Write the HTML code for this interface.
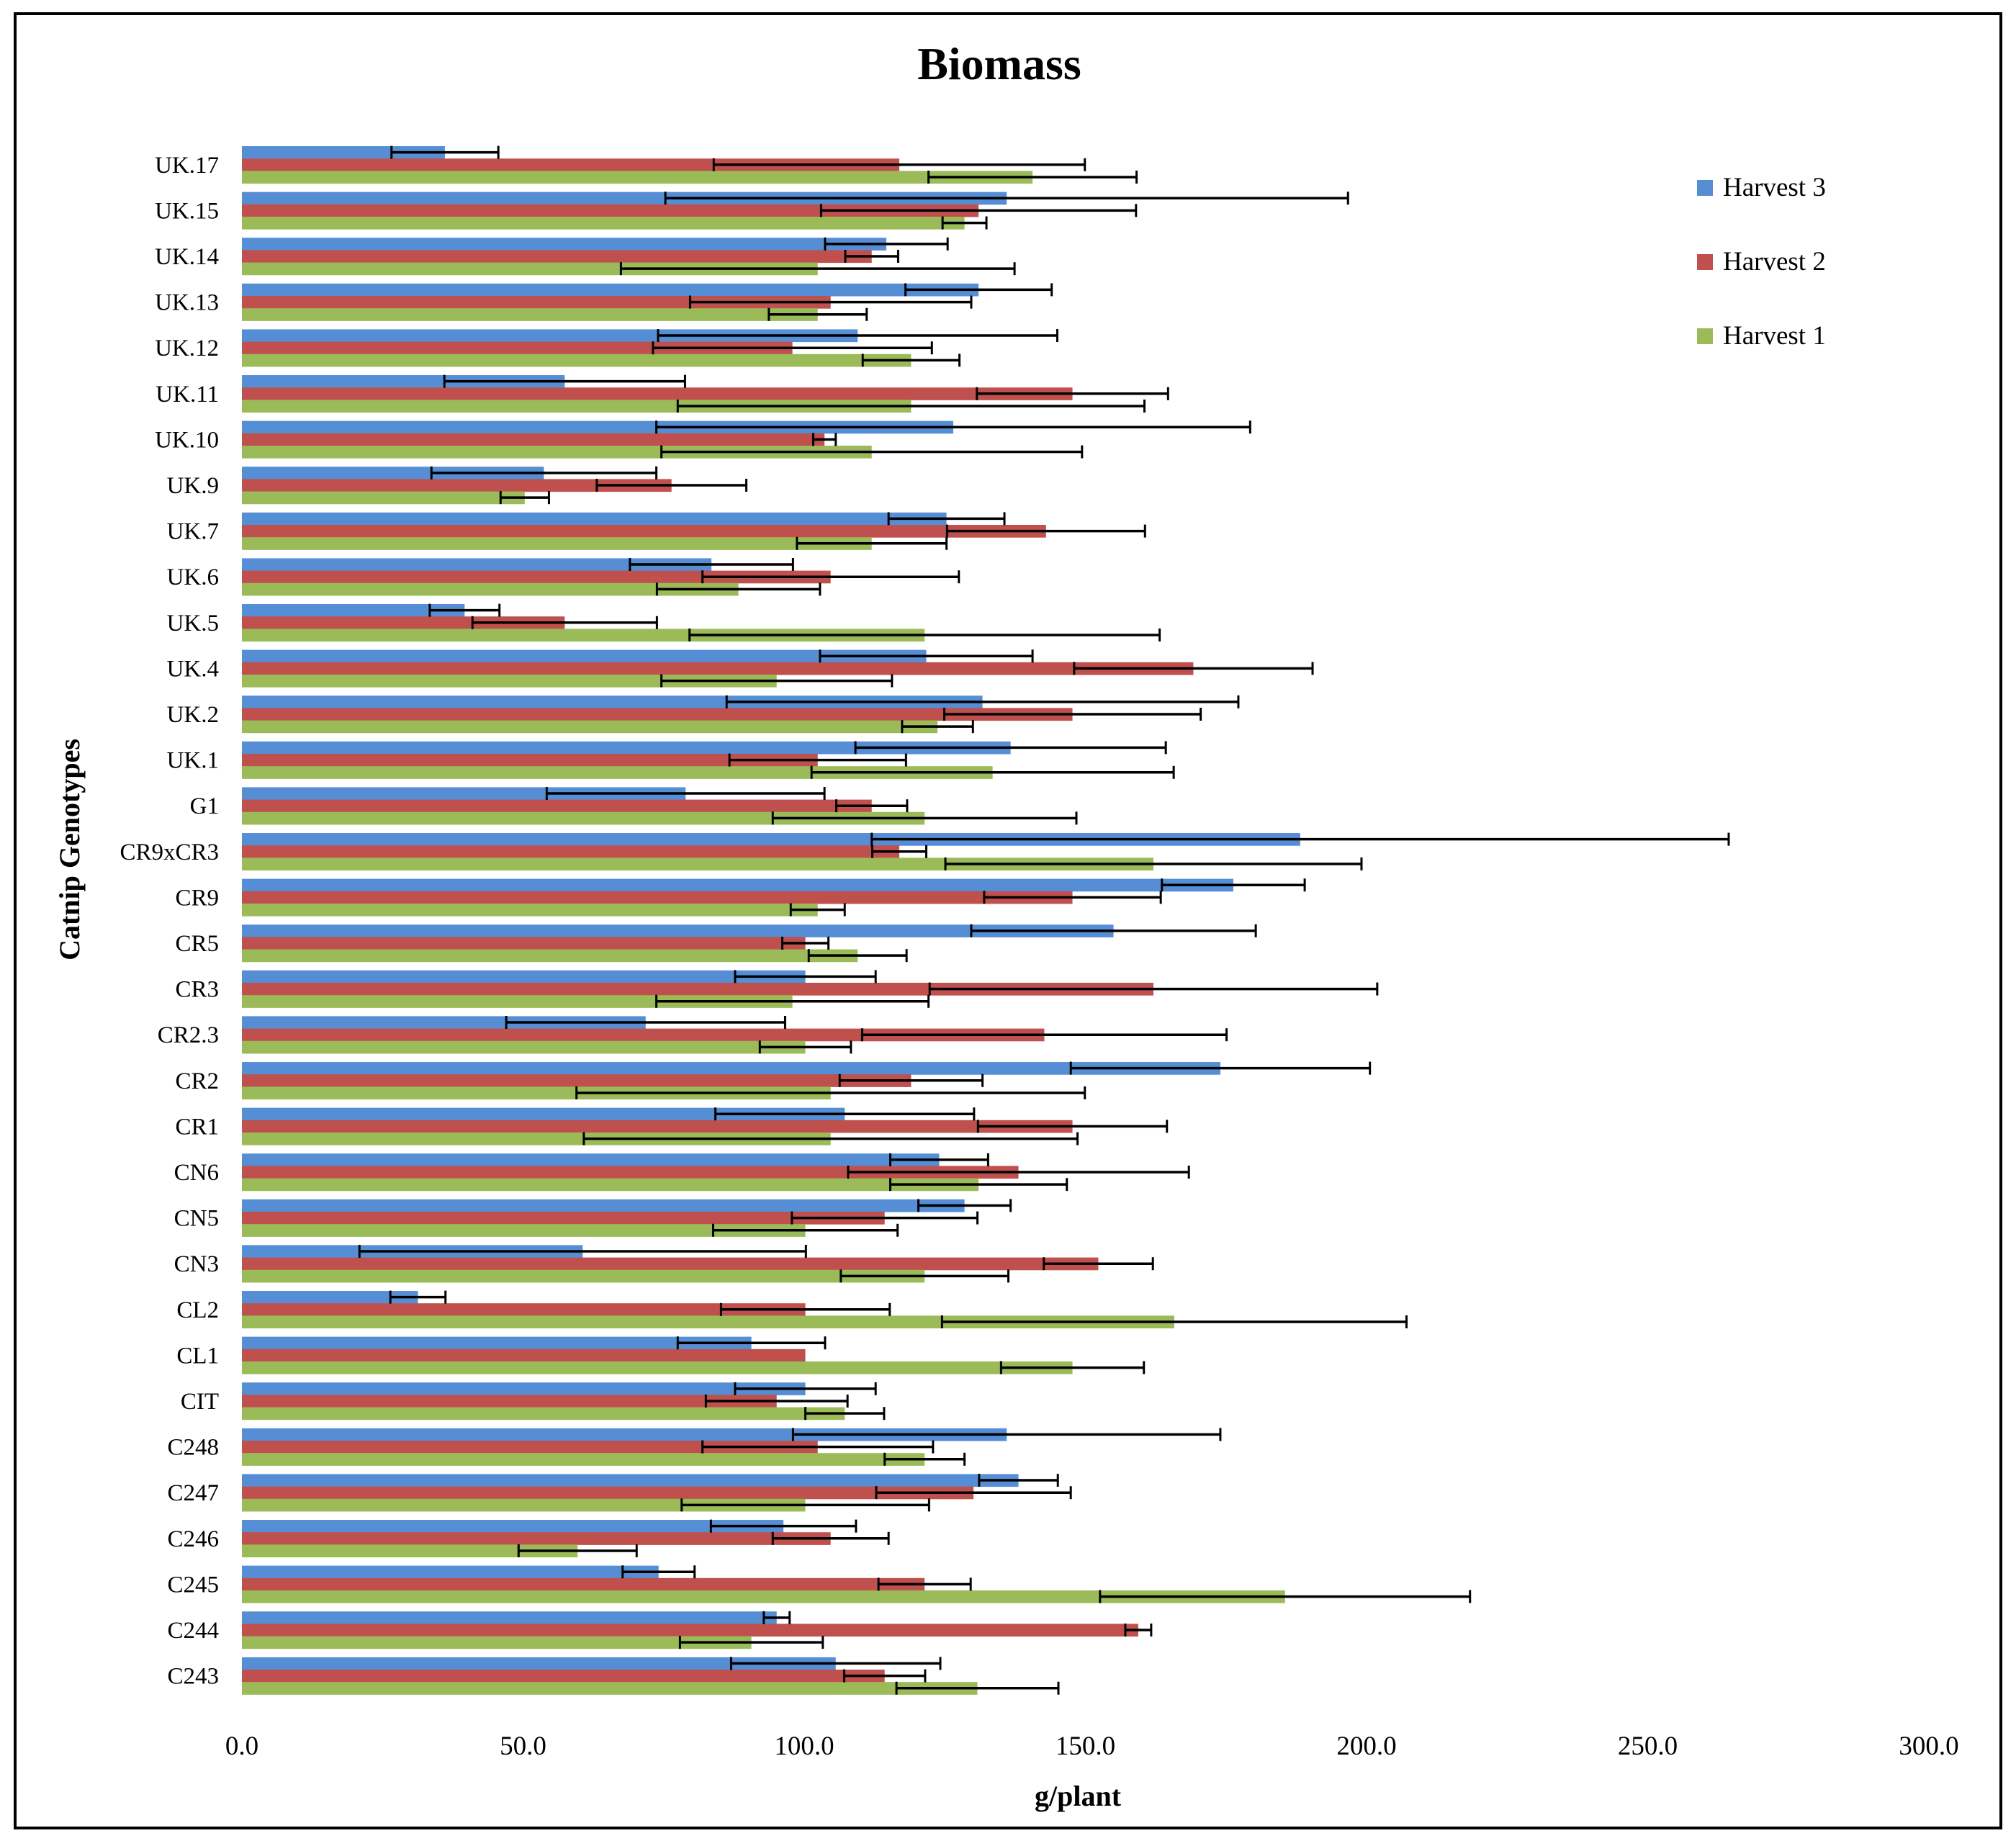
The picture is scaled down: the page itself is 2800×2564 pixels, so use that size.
<!DOCTYPE html>
<html><head><meta charset="utf-8">
<style>
html,body{margin:0;padding:0;background:#fff;}
svg{display:block;}
text{font-family:"Liberation Serif",serif;fill:#000;}
</style></head>
<body>
<svg id="chart" width="2800" height="2564" xmlns="http://www.w3.org/2000/svg">
<rect x="21" y="19" width="2758" height="2520" fill="#fff" stroke="#000" stroke-width="4"/>
<text x="1388" y="110" font-size="64" font-weight="bold" text-anchor="middle">Biomass</text>
<g id="bars"></g>
<g id="xticks"></g>
<text x="1497" y="2508" font-size="40" font-weight="bold" text-anchor="middle">g/plant</text>
<text transform="translate(110,1180) rotate(-90)" font-size="40" font-weight="bold" text-anchor="middle">Catnip Genotypes</text>
<g>
 <g><rect x="2357" y="250" width="22" height="22" fill="#558ed5"/><text x="2393" y="272" font-size="37">Harvest 3</text></g>
 <g><rect x="2357" y="353" width="22" height="22" fill="#c0504d"/><text x="2393" y="375" font-size="37">Harvest 2</text></g>
 <g><rect x="2357" y="456" width="22" height="22" fill="#9bbb59"/><text x="2393" y="478" font-size="37">Harvest 1</text></g>
</g>
</svg>
<script>
const categories = ["UK.17","UK.15","UK.14","UK.13","UK.12","UK.11","UK.10","UK.9","UK.7","UK.6","UK.5","UK.4","UK.2","UK.1","G1","CR9xCR3","CR9","CR5","CR3","CR2.3","CR2","CR1","CN6","CN5","CN3","CL2","CL1","CIT","C248","C247","C246","C245","C244","C243"];
const harvest3 = [36.1,136,114.6,131,109.5,57.4,126.5,53.7,125.3,83.5,39.6,121.7,131.7,136.7,78.9,188.2,176.3,155,100.2,71.8,174,107.2,124,128.5,60.6,31.3,90.6,100.2,136,138.1,96.3,74.1,95.1,105.6];
const harvest3Err = [9.5,60.7,10.9,13,35.5,21.4,52.8,20,10.3,14.5,6.2,18.9,45.5,27.6,24.7,76.2,12.7,25.3,12.5,24.8,26.6,23,8.7,8.2,39.7,4.9,13.1,12.5,38,7,12.9,6.4,2.3,18.6];
const harvest2 = [116.9,131,112,104.7,97.9,147.7,103.6,76.4,143,104.7,57.4,169.2,147.7,102.4,112,116.9,147.7,100.2,162.1,142.7,119,147.7,138.1,114.3,152.3,100.2,100.2,95.1,102.4,130.1,104.7,121.4,159.4,114.3];
const harvest2Err = [33,28,4.7,25,24.8,17,2,13.3,17.6,22.8,16.4,21.2,22.8,15.7,6.3,4.8,15.7,4.1,39.8,32.4,12.7,16.8,30.3,16.5,9.7,15,0,12.6,20.5,17.3,10.3,8.2,2.3,7.2];
const harvest1 = [140.6,128.5,102.4,102.4,119,119,112,50.3,112,88.3,121.4,95.1,123.7,133.5,121.4,162.1,102.4,109.5,97.9,100.2,104.7,104.7,131,100.2,121.4,165.8,147.7,107.2,121.4,100.2,59.7,185.5,90.6,130.8];
const harvest1Err = [18.5,3.9,35,8.7,8.6,41.5,37.4,4.3,13.3,14.5,41.8,20.5,6.3,32.2,27,37,4.8,8.7,24.2,8.1,45.2,43.9,15.7,16.4,14.9,41.3,12.7,7,7.1,22,10.5,32.9,12.7,14.4];
const xTicks = ["0.0","50.0","100.0","150.0","200.0","250.0","300.0"];

const NS = "http://www.w3.org/2000/svg";
const X0 = 336, X1 = 2679, XMAX = 300, TOP = 197, BAND = 63.6;
function xs(v){ return X0 + (X1 - X0) * v / XMAX; }
function yband(i){ return TOP + i * BAND; }
function mk(tag, attrs, parent){ const e = document.createElementNS(NS, tag); for (const k in attrs) e.setAttribute(k, attrs[k]); parent.appendChild(e); return e; }

const g = document.getElementById('bars');
const series = [
  {vals: harvest3, errs: harvest3Err, color: '#558ed5', key: 'harvest3'},
  {vals: harvest2, errs: harvest2Err, color: '#c0504d', key: 'harvest2'},
  {vals: harvest1, errs: harvest1Err, color: '#9bbb59', key: 'harvest1'}
];
const BH = BAND * 0.27, OFF = (BAND - 3 * BH) / 2;
categories.forEach((c, i) => {
  const y0 = yband(i);
  const lab = mk('text', {x: 304, y: y0 + BAND / 2 + 11, 'font-size': 33, 'text-anchor': 'end'}, g);
  lab.textContent = c;
  
  
  series.forEach((s, k) => {
    const y = y0 + OFF + k * BH;
    const r = mk('rect', {x: X0, y: y, width: xs(s.vals[i]) - X0, height: BH + 0.5, fill: s.color}, g);
    
    
  });
  series.forEach((s, k) => {
    const y = y0 + OFF + k * BH + BH / 2;
    const e = s.errs[i];
    if (e <= 0) return;
    const lo = xs(s.vals[i] - e), hi = xs(s.vals[i] + e);
    const eg = mk('g', {stroke: '#000', 'stroke-width': 3.5}, g);
    
    
    mk('line', {x1: lo, x2: hi, y1: y, y2: y}, eg);
    mk('line', {x1: lo, x2: lo, y1: y - 9, y2: y + 9, 'stroke-width': 3}, eg);
    mk('line', {x1: hi, x2: hi, y1: y - 9, y2: y + 9, 'stroke-width': 3}, eg);
  });
});
const xt = document.getElementById('xticks');
xTicks.forEach(t => {
  const tx = mk('text', {x: xs(parseFloat(t)), y: 2437, 'font-size': 37, 'text-anchor': 'middle'}, xt);
  tx.textContent = t;
  
  
});
</script>
</body></html>
